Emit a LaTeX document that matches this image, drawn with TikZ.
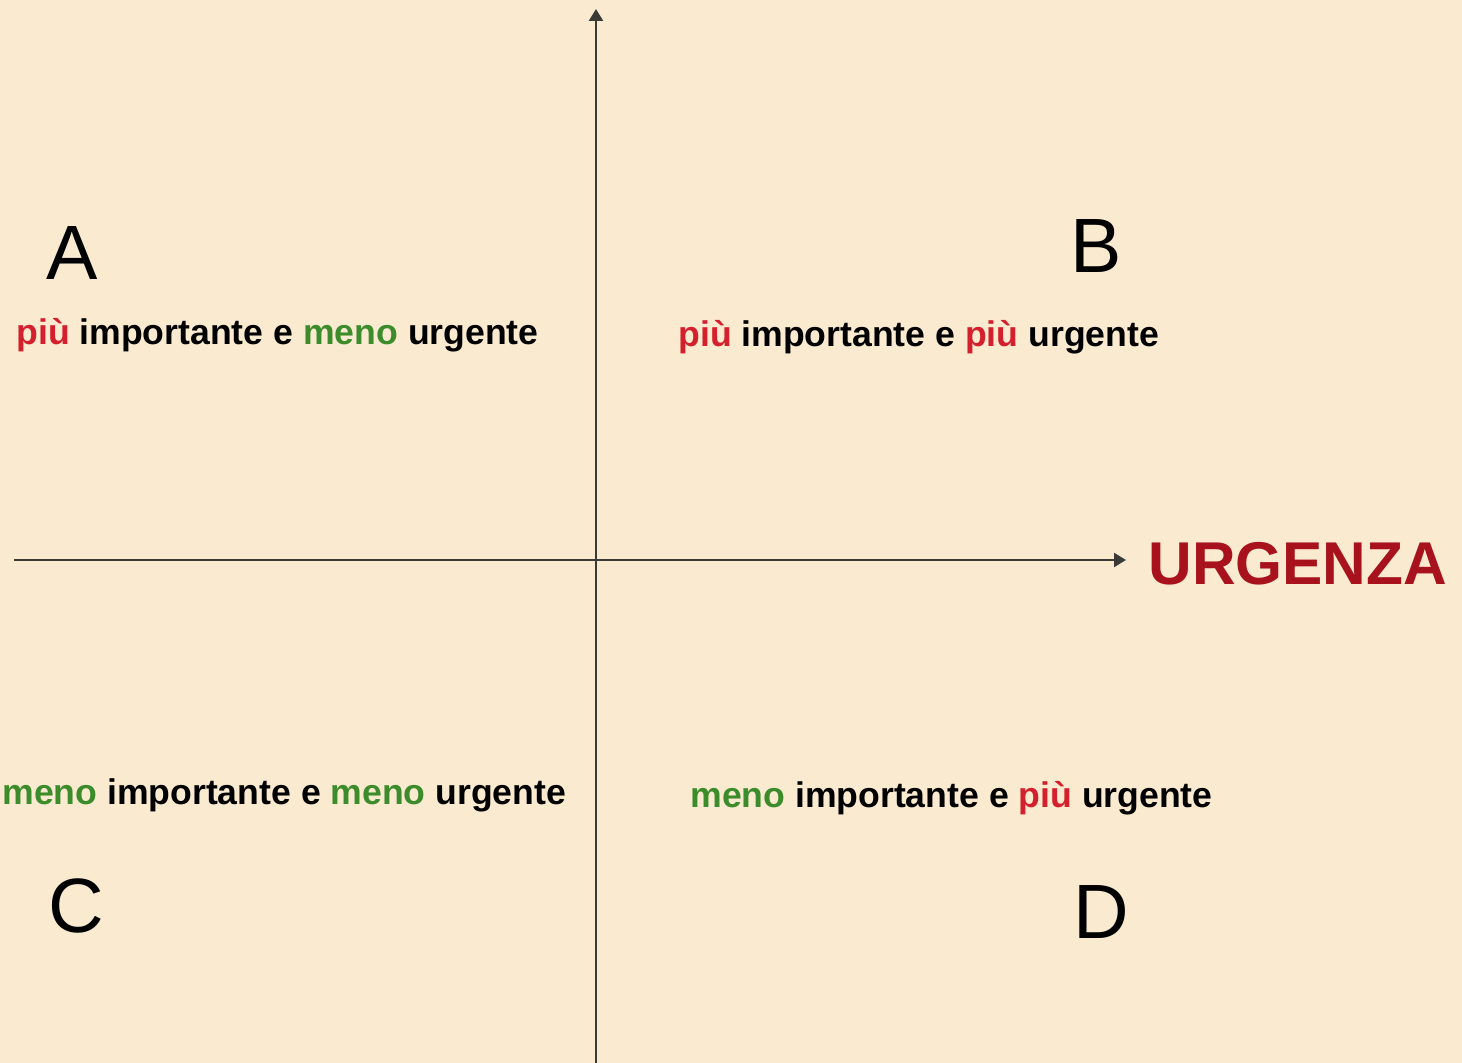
\documentclass[tikz,border=0pt]{standalone}
\usepackage{fontspec}
\setmainfont{Liberation Sans}
\usetikzlibrary{arrows.meta,positioning}
\definecolor{bgcream}{HTML}{FAEAD0}
\definecolor{axisgray}{HTML}{3A3A36}
\definecolor{piured}{HTML}{D4202C}
\definecolor{menogreen}{HTML}{3C8C2C}
\definecolor{urgred}{HTML}{A8121C}
\newcommand{\piu}{\textcolor{piured}{più}}
\newcommand{\meno}{\textcolor{menogreen}{meno}}

\begin{document}
\begin{tikzpicture}[x=0.5pt,y=-0.5pt,
    axis/.style={draw=axisgray,line width=1.2pt,-{Triangle[length=6pt,width=7pt]}},
    letter/.style={inner sep=0pt,anchor=base west,font=\fontsize{38.5}{40}\selectfont},
    phrase/.style={inner sep=0pt,anchor=base west,font=\fontsize{17.8}{20}\selectfont\bfseries},
    axislabel/.style={inner sep=0pt,anchor=base west,text=urgred,font=\fontsize{30.2}{32}\selectfont\bfseries}]
  \fill[bgcream] (0,0) rectangle (1462,1063);
  \useasboundingbox (0,0) rectangle (1462,1063);
  % axes
  \coordinate (xstart) at (14,560);
  \coordinate (xend) at (1126,560);
  \coordinate (ystart) at (596,1063);
  \coordinate (yend) at (596,9);
  \draw[axis] (xstart) -- (xend);
  \draw[axis] (ystart) -- (yend);
  \node[axislabel] (urg) at (1148,585) {URGENZA};
  % quadrants
  \node[letter] (qa) at (46,280) {A};
  \node[letter] (qb) at (1070,273) {B};
  \node[letter] (qc) at (48,932) {C};
  \node[letter] (qd) at (1073,938) {D};
  \node[phrase] (ta) at (16,345) {\piu{} importante e \meno{} urgente};
  \node[phrase] (tb) at (678,347) {\piu{} importante e \piu{} urgente};
  \node[phrase] (tc) at (2,804) {\meno{} importante e \meno{} urgente};
  \node[phrase] (td) at (690,807) {\meno{} importante e \piu{} urgente};
\end{tikzpicture}
\end{document}
